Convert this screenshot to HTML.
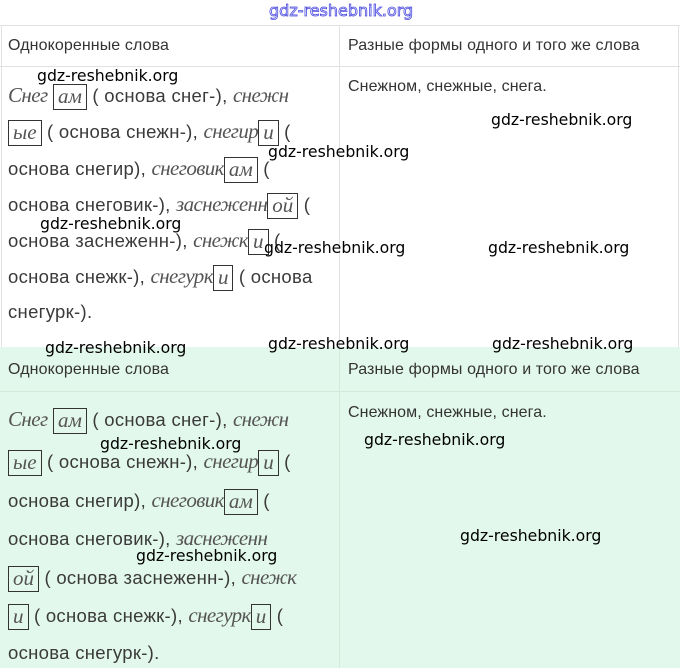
<!DOCTYPE html>
<html><head><meta charset="utf-8"><style>
*{margin:0;padding:0;box-sizing:border-box}
body{width:680px;height:668px;overflow:hidden;background:#fff;position:relative;font-family:"Liberation Sans","DejaVu Sans",sans-serif;color:#333}
.a{position:absolute;white-space:nowrap}
.h{font-size:16px;color:#333;letter-spacing:0.1px}
.t{font-size:18.5px;letter-spacing:0.3px;color:#3a3a3a}
.t i{font-family:"Liberation Serif",serif;font-size:21px;color:#555;letter-spacing:-0.6px}
.b{display:inline-block;border:1.3px solid #333;padding:0 4px;line-height:23px;height:26px;font-family:"Liberation Serif",serif;font-style:italic;font-size:21px;color:#555;vertical-align:middle;letter-spacing:0}
.w{position:absolute;font-family:"DejaVu Sans","Liberation Sans",sans-serif;font-size:15.7px;color:#000;white-space:nowrap}
.hl{position:absolute;height:1px;background:#e2e2e2}
.vl{position:absolute;width:1px;background:#e2e2e2}
</style></head><body>
<div class="a" style="left:269px;top:1px;font-size:16px;color:#fff;-webkit-text-stroke:0.8px #4a4adf;font-family:'DejaVu Sans',sans-serif">gdz-reshebnik.org</div>

<div class="hl" style="left:0;top:25px;width:680px"></div>
<div class="hl" style="left:0;top:66px;width:680px"></div>
<div class="vl" style="left:339px;top:25px;height:322px"></div>
<div class="vl" style="left:1px;top:25px;height:322px"></div>
<div class="vl" style="left:678px;top:25px;height:322px"></div>

<div style="position:absolute;left:0;top:347px;width:680px;height:321px;background:#e3f8ec"></div>
<div class="hl" style="left:0;top:391px;width:680px;background:#d3eadb"></div>
<div class="vl" style="left:339px;top:347px;height:321px;background:#d3eadb"></div>

<div class="a h" style="left:8px;top:37px">Однокоренные слова</div>
<div class="a h" style="left:348px;top:37px">Разные формы одного и того же слова</div>
<div class="a h" style="left:348px;top:78px">Снежном, снежные, снега.</div>

<div class="a t" style="left:8px;top:83px"><i>Снег</i> <span class="b">ам</span> ( основа снег-), <i>снежн</i></div>
<div class="a t" style="left:8px;top:119px"><span class="b">ые</span> ( основа снежн-), <i>снегир</i><span class="b">и</span> (</div>
<div class="a t" style="left:8px;top:156px">основа снегир), <i>снеговик</i><span class="b">ам</span> (</div>
<div class="a t" style="left:8px;top:192px">основа снеговик-), <i>заснеженн</i><span class="b">ой</span> (</div>
<div class="a t" style="left:8px;top:228px">основа заснеженн-), <i>снежк</i><span class="b">и</span> (</div>
<div class="a t" style="left:8px;top:264px">основа снежк-), <i>снегурк</i><span class="b">и</span> ( основа</div>
<div class="a t" style="left:8px;top:301px">снегурк-).</div>

<div class="a h" style="left:8px;top:361px">Однокоренные слова</div>
<div class="a h" style="left:348px;top:361px">Разные формы одного и того же слова</div>
<div class="a h" style="left:348px;top:404px">Снежном, снежные, снега.</div>

<div class="a t" style="left:8px;top:407px"><i>Снег</i> <span class="b">ам</span> ( основа снег-), <i>снежн</i></div>
<div class="a t" style="left:8px;top:449px"><span class="b">ые</span> ( основа снежн-), <i>снегир</i><span class="b">и</span> (</div>
<div class="a t" style="left:8px;top:488px">основа снегир), <i>снеговик</i><span class="b">ам</span> (</div>
<div class="a t" style="left:8px;top:526px">основа снеговик-), <i>заснеженн</i></div>
<div class="a t" style="left:8px;top:565px"><span class="b">ой</span> ( основа заснеженн-), <i>снежк</i></div>
<div class="a t" style="left:8px;top:603px"><span class="b">и</span> ( основа снежк-), <i>снегурк</i><span class="b">и</span> (</div>
<div class="a t" style="left:8px;top:642px">основа снегурк-).</div>

<div class="w" style="left:37px;top:66px">gdz-reshebnik.org</div>
<div class="w" style="left:491px;top:110px">gdz-reshebnik.org</div>
<div class="w" style="left:268px;top:142px">gdz-reshebnik.org</div>
<div class="w" style="left:40px;top:214px">gdz-reshebnik.org</div>
<div class="w" style="left:264px;top:238px">gdz-reshebnik.org</div>
<div class="w" style="left:488px;top:238px">gdz-reshebnik.org</div>
<div class="w" style="left:45px;top:338px">gdz-reshebnik.org</div>
<div class="w" style="left:268px;top:334px">gdz-reshebnik.org</div>
<div class="w" style="left:492px;top:334px">gdz-reshebnik.org</div>
<div class="w" style="left:100px;top:434px">gdz-reshebnik.org</div>
<div class="w" style="left:364px;top:430px">gdz-reshebnik.org</div>
<div class="w" style="left:136px;top:546px">gdz-reshebnik.org</div>
<div class="w" style="left:460px;top:526px">gdz-reshebnik.org</div>
</body></html>
